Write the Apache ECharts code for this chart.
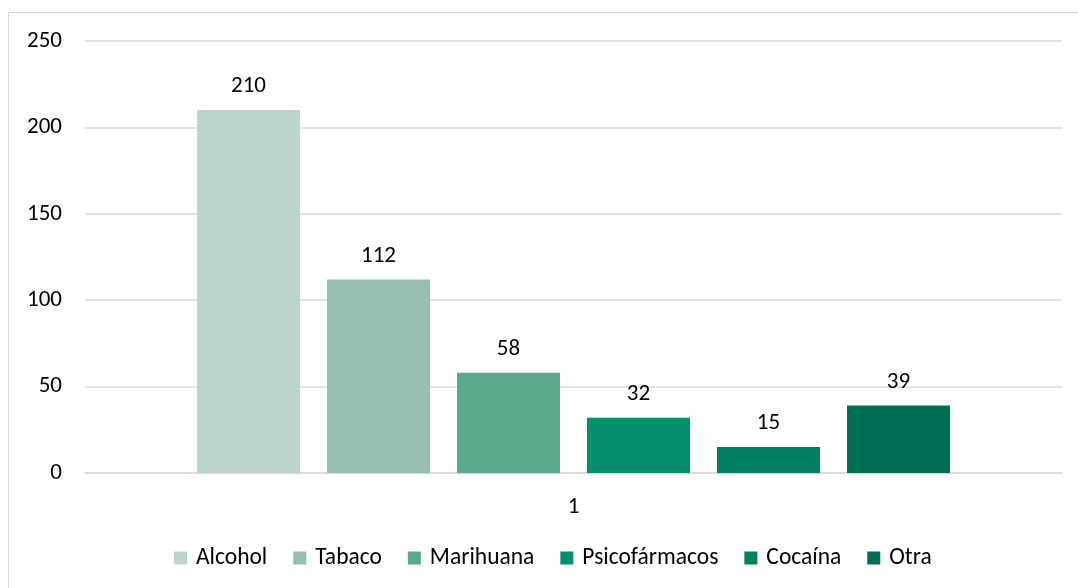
<!DOCTYPE html>
<html><head><meta charset="utf-8">
<script src="https://cdn.jsdelivr.net/npm/echarts@6/dist/echarts.min.js"></script>
<style>html,body{margin:0;padding:0;background:#fff}#c{width:1078px;height:588px}</style>
</head><body><div id="c"></div>
<script>
const categories = ['1'];
const seriesNames = ['Alcohol','Tabaco','Marihuana','Psicofármacos','Cocaína','Otra'];
const seriesValues = [210, 112, 58, 32, 15, 39];
const seriesColors = ['#BCD5CC','#97BFAF','#5BA88B','#038F6E','#007F62','#006E55'];
const yTicks = {min:0, max:250, interval:50};

const FONT = 'Carlito, Lato, sans-serif';
const FS = 23;
const chart = echarts.init(document.getElementById('c'), null, {renderer:'canvas'});
chart.setOption({
  animation:false,
  backgroundColor:'#fff',
  textStyle:{fontFamily:FONT},
  graphic:[{type:'rect', shape:{x:8.5,y:12.5,width:1080,height:590}, style:{fill:'none', stroke:'#D9D9D9', lineWidth:1}, silent:true}],
  grid:{left:85, right:16, top:41, bottom:115, containLabel:false},
  legend:{bottom:13, left:169, itemWidth:13, itemHeight:13, itemGap:26, icon:'rect',
    textStyle:{fontFamily:FONT, fontSize:23.5, color:'#000', padding:[0,0,0,4]},
    data:seriesNames},
  xAxis:{type:'category', data:categories,
    axisLine:{lineStyle:{color:'#D9D9D9', width:1.5}}, axisTick:{show:false},
    axisLabel:{fontFamily:FONT, fontSize:FS, color:'#000', margin:23}},
  yAxis:{type:'value', min:yTicks.min, max:yTicks.max, interval:yTicks.interval,
    axisLine:{show:false}, axisTick:{show:false},
    splitLine:{lineStyle:{color:'#D9D9D9', width:1.5}},
    axisLabel:{fontFamily:FONT, fontSize:FS, color:'#000', margin:23}},
  series: seriesNames.map((n,i)=>({
    name:n, type:'bar', data:[seriesValues[i]], barWidth:103, barGap:(27/103*100).toFixed(1)+'%',
    itemStyle:{color:seriesColors[i]},
    label:{show:true, position:'top', distance:12, fontFamily:FONT, fontSize:FS, color:'#000'}
  }))
});
</script></body></html>
